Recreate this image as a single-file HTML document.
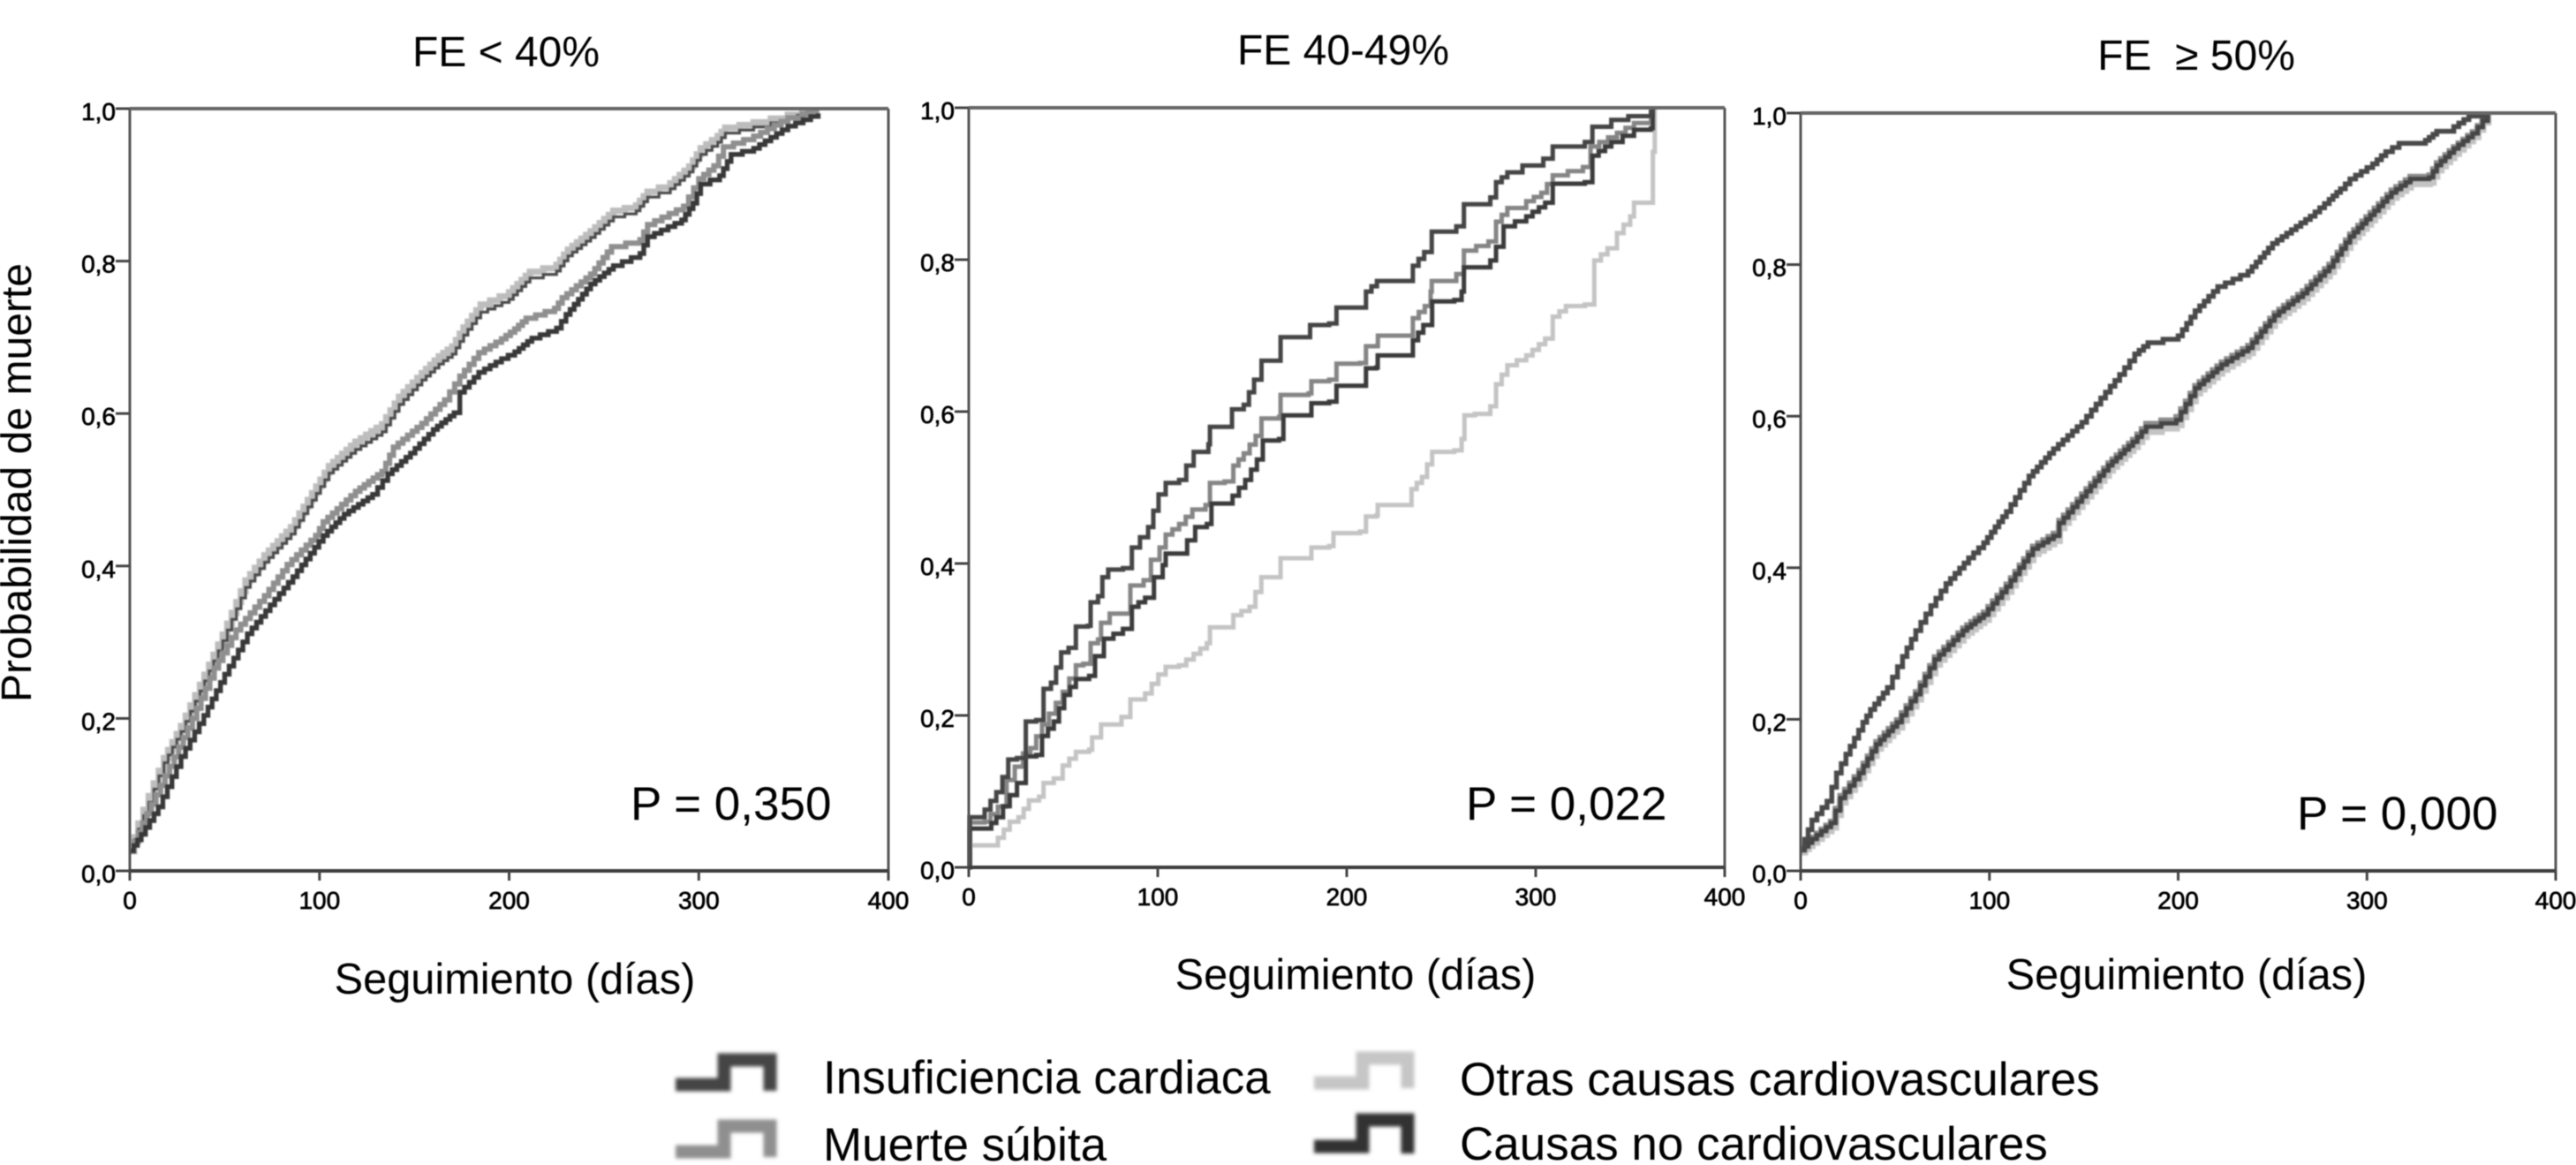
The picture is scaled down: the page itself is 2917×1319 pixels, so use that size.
<!DOCTYPE html>
<html lang="es">
<head>
<meta charset="utf-8">
<title>Probabilidad de muerte por FE</title>
<style>
html,body{margin:0;padding:0;background:#fff;}
svg{display:block;font-family:"Liberation Sans",Arial,sans-serif;}
text{fill:#000;}
</style>
</head>
<body>
<svg id="figure" xmlns="http://www.w3.org/2000/svg" width="2917" height="1319" viewBox="0 0 2917 1319">
  <defs>
    <filter id="soft" x="-5%" y="-5%" width="110%" height="110%"><feGaussianBlur stdDeviation="0.9"/></filter>
    <filter id="softer" x="-15%" y="-15%" width="130%" height="130%"><feGaussianBlur stdDeviation="2"/></filter>
    <filter id="softtext" x="-5%" y="-5%" width="110%" height="110%"><feGaussianBlur stdDeviation="0.45"/></filter>
  </defs>
  <rect width="2917" height="1319" fill="#fff"/>

  <g filter="url(#softtext)">
    <text x="573" y="75" font-size="48" text-anchor="middle">FE &lt; 40%</text>
    <text x="1521" y="73" font-size="48" text-anchor="middle">FE 40-49%</text>
    <text x="2487" y="79" font-size="48" text-anchor="middle" xml:space="preserve">FE  ≥ 50%</text>

    <text transform="translate(35 795) rotate(-90)" font-size="48" textLength="497">Probabilidad de muerte</text>

    <text x="583" y="1125" font-size="48.7" text-anchor="middle">Seguimiento (días)</text>
    <text x="1535" y="1120" font-size="48.7" text-anchor="middle">Seguimiento (días)</text>
    <text x="2476" y="1120" font-size="48.7" text-anchor="middle">Seguimiento (días)</text>

    <text x="714" y="928" font-size="53">P = 0,350</text>
    <text x="1660" y="928" font-size="53">P = 0,022</text>
    <text x="2601" y="939" font-size="53">P = 0,000</text>

    <text x="932" y="1238" font-size="53">Insuficiencia cardiaca</text>
    <text x="932" y="1314" font-size="53">Muerte súbita</text>
    <text x="1653" y="1240" font-size="53">Otras causas cardiovasculares</text>
    <text x="1653" y="1313" font-size="53">Causas no cardiovasculares</text>
  </g>

  <g fill="none" stroke-width="15" filter="url(#softer)">
    <path stroke="#444" d="M765 1228H820V1200H872V1235"/>
    <path stroke="#8f8f8f" d="M765 1304H820V1275H872V1310"/>
    <path stroke="#c6c6c6" d="M1488 1226H1543V1198H1594V1232"/>
    <path stroke="#333" d="M1488 1298H1543V1268H1594V1306"/>
  </g>

  <g id="plots"></g>
</svg>

<script>
// Tick labels
const xTicks = [0, 100, 200, 300, 400];
const yTicks = [0, 0.2, 0.4, 0.6, 0.8, 1.0];
const yTickLabels = ["0,0", "0,2", "0,4", "0,6", "0,8", "1,0"];

// Panel 1: FE < 40%
const p1OtrasDays = [0,4.5,10,18,27,37,49,61,71,85,105,119,133,142,154,163,170,176,185,200,211,225,231,243,255,267,273,285,295,301,310,314,329,347,362];
const p1OtrasVals = [0.026,0.062,0.098,0.148,0.19,0.244,0.31,0.381,0.414,0.451,0.531,0.563,0.586,0.622,0.653,0.675,0.688,0.713,0.743,0.759,0.786,0.795,0.815,0.839,0.866,0.873,0.891,0.902,0.924,0.948,0.964,0.975,0.982,0.992,1.0];
const p1InsufDays = [0,4.5,10,18,27,37,49,61,71,85,105,119,133,142,154,163,170,176,185,200,211,225,231,243,255,267,273,285,295,301,310,314,329,347,362];
const p1InsufVals = [0.026,0.055,0.09,0.142,0.183,0.236,0.302,0.372,0.405,0.442,0.522,0.553,0.576,0.612,0.644,0.665,0.678,0.703,0.733,0.75,0.778,0.787,0.807,0.831,0.858,0.866,0.884,0.895,0.917,0.94,0.956,0.968,0.976,0.987,1.0];
const p1MuerteDays = [0,9,21,33,44.5,56,71,83,98,102,119,133,139,154,166,174,184,196,203,209,224,228,243,254,269,273,292,300,308,313,329,347,362];
const p1MuerteVals = [0.026,0.075,0.137,0.2,0.266,0.316,0.361,0.402,0.44,0.458,0.498,0.524,0.556,0.587,0.618,0.649,0.68,0.698,0.711,0.725,0.738,0.752,0.783,0.819,0.828,0.848,0.872,0.908,0.925,0.95,0.964,0.988,0.999];
const p1CausasDays = [0,6,15,27,39,50,62,74,86,102,113,128,136,148,160,171,174,184,196,203,212,225,230,243,255,269,273,291,297,301,311,317,329,347,363];
const p1CausasVals = [0.026,0.048,0.084,0.15,0.204,0.258,0.311,0.349,0.386,0.44,0.468,0.494,0.521,0.548,0.579,0.601,0.628,0.654,0.672,0.681,0.699,0.712,0.73,0.77,0.794,0.81,0.832,0.854,0.876,0.901,0.912,0.94,0.948,0.977,0.994];

// Panel 2: FE 40-49%
const p2InsufDays = [0,0.6,7.6,8.4,14.6,17.8,20.9,25.5,30.2,35.7,39.6,43.5,48.9,52.8,56.7,63,64.5,68.4,70.7,73.8,81.6,86.3,94.9,100.4,104.2,111.3,115.1,119,126.8,127.6,136.2,139.3,145.5,151,154.9,164.2,165,179.8,180.6,190.7,194.6,207,210.2,216,233,235,241,245,258,262,276,279,285,293,304,309,326,330,340,349,361,362];
const p2InsufVals = [0,0.066,0.066,0.076,0.099,0.119,0.142,0.144,0.192,0.194,0.235,0.243,0.283,0.289,0.317,0.318,0.349,0.357,0.382,0.392,0.394,0.421,0.448,0.491,0.506,0.51,0.529,0.547,0.557,0.58,0.58,0.603,0.609,0.642,0.667,0.667,0.698,0.698,0.714,0.716,0.737,0.737,0.758,0.772,0.772,0.792,0.81,0.837,0.844,0.873,0.882,0.902,0.915,0.924,0.933,0.949,0.955,0.975,0.984,0.989,0.995,1.0];
const p2MuerteDays = [0,0.6,8.4,11.5,15.4,20,28.7,32.6,38.8,49.7,56.7,60.6,64.5,68.4,70,74.6,81.6,85.5,92.5,96.4,101,104.2,111.3,118.3,125.3,127.6,135.4,140,145.5,151.8,154.9,164.2,165,179.8,181.3,190.7,194.6,207,210.2,216.4,216.5,233.5,235,241.3,244.4,245,258,262,275,279,285,295,303,309,325,329,343,352,361,362];
const p2MuerteVals = [0,0.059,0.06,0.07,0.08,0.115,0.15,0.157,0.188,0.231,0.266,0.268,0.295,0.3,0.322,0.334,0.334,0.371,0.378,0.405,0.421,0.438,0.452,0.471,0.477,0.506,0.508,0.529,0.545,0.568,0.591,0.593,0.622,0.624,0.64,0.642,0.663,0.664,0.686,0.688,0.7,0.7,0.723,0.739,0.758,0.772,0.781,0.812,0.824,0.85,0.868,0.877,0.888,0.911,0.922,0.949,0.967,0.98,0.989,1.0];
const p2OtrasDays = [0,0.6,8.4,15.4,21.7,26.3,31.8,37.2,39.6,45,49.7,56.7,63.7,65.3,70,80.8,85.5,93.3,100.3,104.2,111.2,119,126,127.6,136.1,140,148.6,154.8,164.2,165,179.8,181.3,190.7,193,207,210.2,215.6,216.4,233.5,234.3,239.8,245.2,256.9,260.8,262.3,267.8,276,279,285,295,305,309,316,326,331,338,343,350,352,360,362,363];
const p2OtrasVals = [0,0.029,0.029,0.039,0.06,0.066,0.088,0.093,0.111,0.117,0.134,0.152,0.155,0.171,0.188,0.198,0.221,0.229,0.254,0.264,0.266,0.281,0.295,0.316,0.316,0.332,0.343,0.382,0.382,0.407,0.407,0.421,0.423,0.44,0.442,0.462,0.463,0.477,0.477,0.498,0.514,0.547,0.549,0.564,0.595,0.597,0.607,0.636,0.661,0.674,0.696,0.725,0.739,0.741,0.799,0.815,0.835,0.857,0.875,0.875,0.942,1.0];
const p2CausasDays = [0,0.6,9.2,14.6,21.7,25.5,30.2,35.7,38.8,45,50.5,56.7,63.7,66.8,71.5,81.6,86.3,93.3,98,102.6,104.2,111.3,119.8,126,128.4,136.2,146.3,152.5,155.6,164.2,166.5,179.8,181.3,190.7,194.6,207,210.2,215.6,216.4,233.5,235,240.5,245.2,256.9,260.8,262,276,279,283,295,305,309,326,330,340,352,361,362];
const p2CausasVals = [0,0.051,0.051,0.066,0.095,0.111,0.146,0.148,0.173,0.192,0.227,0.248,0.252,0.278,0.301,0.314,0.343,0.355,0.382,0.398,0.413,0.413,0.448,0.452,0.479,0.479,0.51,0.537,0.562,0.564,0.595,0.595,0.611,0.613,0.634,0.634,0.657,0.658,0.674,0.674,0.694,0.714,0.745,0.747,0.758,0.79,0.799,0.817,0.844,0.857,0.875,0.9,0.902,0.937,0.955,0.971,0.973,1.0];

// Panel 3: FE >= 50%
const p3InsufDays = [0,6,14,19,24,33,37,46,54,61,69,77,89,97,103,109,121,134,149,159,169,177,184,200,209,221,237,250,260,270,280,286,291,303,310,317,331,337,346,354,364];
const p3InsufVals = [0.029,0.067,0.092,0.129,0.154,0.196,0.213,0.242,0.283,0.317,0.35,0.379,0.413,0.433,0.454,0.474,0.521,0.557,0.592,0.624,0.655,0.682,0.697,0.706,0.739,0.771,0.791,0.828,0.846,0.864,0.886,0.9,0.913,0.933,0.949,0.96,0.964,0.976,0.982,0.996,0.999];
const p3BandDays = [0,6,16,21,31,40,51,61,71,86,97,109,123,134,137,149,163,176,183,199,209,223,237,251,266,280,291,304,313,323,333,337,346,356,364];
const p3OtrasVals = [0.025,0.038,0.058,0.091,0.124,0.162,0.19,0.227,0.273,0.311,0.332,0.369,0.419,0.436,0.453,0.488,0.529,0.56,0.58,0.589,0.631,0.662,0.684,0.727,0.756,0.791,0.831,0.865,0.889,0.907,0.909,0.925,0.947,0.969,0.998];
const p3MuerteVals = [0.028,0.044,0.065,0.099,0.132,0.17,0.199,0.236,0.282,0.32,0.341,0.378,0.428,0.445,0.462,0.497,0.538,0.569,0.59,0.599,0.64,0.671,0.693,0.736,0.765,0.8,0.84,0.874,0.898,0.916,0.918,0.934,0.955,0.975,0.999];
const p3CausasVals = [0.027,0.042,0.063,0.096,0.129,0.167,0.196,0.233,0.279,0.317,0.338,0.375,0.425,0.442,0.459,0.494,0.535,0.566,0.586,0.595,0.637,0.668,0.69,0.733,0.762,0.797,0.837,0.871,0.895,0.913,0.915,0.931,0.953,0.973,0.998];

const NS = "http://www.w3.org/2000/svg";
const plots = document.getElementById("plots");

const panels = [
  { id: "1", left: 147, right: 1006, top: 123, bottom: 986, stepX: 5, stepY: 4, width: 6, series: [
    { name: "otras", days: p1OtrasDays, vals: p1OtrasVals, color: "#bdbdbd", w: 1.2 },
    { name: "insuficiencia", days: p1InsufDays, vals: p1InsufVals, color: "#4c4c4c", w: 0.55 },
    { name: "muerte-subita", days: p1MuerteDays, vals: p1MuerteVals, color: "#8f8f8f", w: 1 },
    { name: "no-cardio", days: p1CausasDays, vals: p1CausasVals, color: "#383838", w: 0.9 }
  ]},
  { id: "2", left: 1097, right: 1953, top: 122, bottom: 982, stepX: 7.5, stepY: 6, width: 5, series: [
    { name: "otras", days: p2OtrasDays, vals: p2OtrasVals, color: "#c4c4c4", w: 1 },
    { name: "muerte-subita", days: p2MuerteDays, vals: p2MuerteVals, color: "#858585", w: 1 },
    { name: "no-cardio", days: p2CausasDays, vals: p2CausasVals, color: "#3a3a3a", w: 1 },
    { name: "insuficiencia", days: p2InsufDays, vals: p2InsufVals, color: "#454545", w: 1 }
  ]},
  { id: "3", left: 2039, right: 2894, top: 128, bottom: 986, stepX: 5, stepY: 4, width: 5.5, series: [
    { name: "otras", days: p3BandDays, vals: p3OtrasVals, color: "#c4c4c4", w: 1.5 },
    { name: "muerte-subita", days: p3BandDays, vals: p3MuerteVals, color: "#8c8c8c", w: 1.2 },
    { name: "no-cardio", days: p3BandDays, vals: p3CausasVals, color: "#444", w: 0.95 },
    { name: "insuficiencia", days: p3InsufDays, vals: p3InsufVals, color: "#4a4a4a", w: 1 }
  ]}
];

function makeX(p) { return function (d) { return p.left + (d / 400) * (p.right - p.left); }; }
function makeY(p) { return function (v) { return p.bottom - v * (p.bottom - p.top); }; }

// Draws the survival-style staircase between consecutive read points.
function seriesPath(s, p, sx, sy) {
  let px = sx(s.days[0]);
  let py = sy(s.vals[0]);
  let d = "M" + px.toFixed(1) + " " + py.toFixed(1);
  for (let i = 1; i < s.days.length; i++) {
    const nx = sx(s.days[i]);
    const ny = sy(s.vals[i]);
    const n = Math.max(1, Math.min(Math.round((nx - px) / p.stepX), Math.round(Math.abs(ny - py) / p.stepY)));
    for (let k = 1; k <= n; k++) {
      d += "H" + (px + (nx - px) * k / n).toFixed(1) + "V" + (py + (ny - py) * k / n).toFixed(1);
    }
    px = nx;
    py = ny;
  }
  return d;
}

panels.forEach(function (p) {
  const sx = makeX(p);
  const sy = makeY(p);
  const g = document.createElementNS(NS, "g");
  
  
  plots.appendChild(g);

  // curves
  const curves = document.createElementNS(NS, "g");
  
  
  curves.setAttribute("filter", "url(#soft)");
  g.appendChild(curves);
  p.series.forEach(function (s) {
    const path = document.createElementNS(NS, "path");
    
    
    path.setAttribute("d", seriesPath(s, p, sx, sy));
    path.setAttribute("fill", "none");
    path.setAttribute("stroke", s.color);
    path.setAttribute("stroke-width", (p.width * s.w).toFixed(2));
    path.setAttribute("stroke-linejoin", "miter");
    curves.appendChild(path);
  });

  // frame
  const axes = document.createElementNS(NS, "g");
  
  
  axes.setAttribute("filter", "url(#softtext)");
  g.appendChild(axes);

  const frame = document.createElementNS(NS, "path");
  
  
  frame.setAttribute("d", "M" + p.left + " " + p.top + "V" + p.bottom + "M" + p.right + " " + p.top + "V" + p.bottom);
  frame.setAttribute("stroke", "#555");
  frame.setAttribute("stroke-width", "3");
  frame.setAttribute("fill", "none");
  axes.appendChild(frame);

  const topLine = document.createElementNS(NS, "path");
  
  
  topLine.setAttribute("d", "M" + p.left + " " + p.top + "H" + p.right);
  topLine.setAttribute("stroke", "#666");
  topLine.setAttribute("stroke-width", "4");
  axes.appendChild(topLine);

  const baseLine = document.createElementNS(NS, "path");
  
  
  baseLine.setAttribute("d", "M" + p.left + " " + p.bottom + "H" + p.right);
  baseLine.setAttribute("stroke", "#3c3c3c");
  baseLine.setAttribute("stroke-width", "4");
  axes.appendChild(baseLine);

  // y ticks
  yTicks.forEach(function (v, i) {
    const t = document.createElementNS(NS, "path");
    
    
    t.setAttribute("d", "M" + (p.left - 16) + " " + sy(v).toFixed(1) + "H" + p.left);
    t.setAttribute("stroke", "#444");
    t.setAttribute("stroke-width", "3");
    axes.appendChild(t);

    const l = document.createElementNS(NS, "text");
    
    
    l.setAttribute("x", p.left - 16);
    l.setAttribute("y", (sy(v) + 13).toFixed(1));
    l.setAttribute("font-size", "28");
    l.setAttribute("text-anchor", "end");
    l.setAttribute("stroke", "#000");
    l.setAttribute("stroke-width", "0.7");
    l.textContent = yTickLabels[i];
    axes.appendChild(l);
  });

  // x ticks
  xTicks.forEach(function (d) {
    const t = document.createElementNS(NS, "path");
    
    
    t.setAttribute("d", "M" + sx(d).toFixed(1) + " " + p.bottom + "v11");
    t.setAttribute("stroke", "#444");
    t.setAttribute("stroke-width", "3");
    axes.appendChild(t);

    const l = document.createElementNS(NS, "text");
    
    
    l.setAttribute("x", sx(d).toFixed(1));
    l.setAttribute("y", p.bottom + 43);
    l.setAttribute("font-size", "28");
    l.setAttribute("text-anchor", "middle");
    l.setAttribute("stroke", "#000");
    l.setAttribute("stroke-width", "0.7");
    l.textContent = String(d);
    axes.appendChild(l);
  });
});
</script>
</body>
</html>
